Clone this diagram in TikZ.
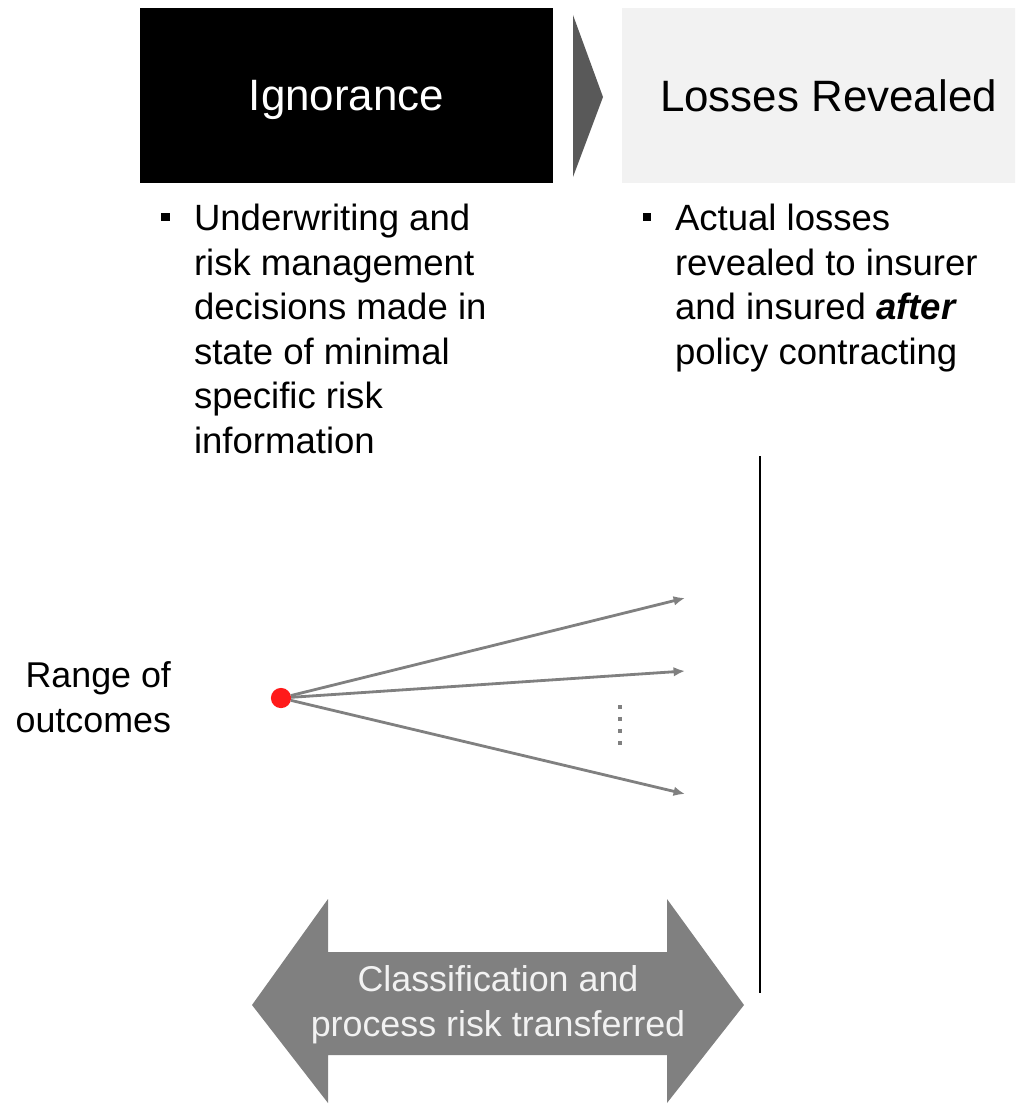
\documentclass[tikz,border=0pt]{standalone}
\usepackage{fontspec}
\setmainfont{Liberation Sans}
\usetikzlibrary{arrows.meta}
\definecolor{chevgray}{HTML}{595959}
\definecolor{fangray}{HTML}{808080}
\definecolor{boxgray}{HTML}{F2F2F2}
\definecolor{dotred}{HTML}{FF1A1A}
\tikzstyle{every node}=[inner sep=0pt, outer sep=0pt]
\tikzstyle{headbox}=[minimum width=8.26cm, minimum height=3.5cm, text depth=0pt, font=\fontsize{25}{30}\selectfont]
\tikzstyle{bodytext}=[align=left, anchor=north west, font=\fontsize{20.8}{25.4}\selectfont]
\tikzstyle{sqbullet}=[fill=black, minimum size=5pt]
\tikzset{fan/.style={draw=fangray, line width=1.6pt, -{Latex[length=6.5pt,width=5.5pt]}}}

\begin{document}
\begin{tikzpicture}[x=0.02cm, y=-0.02cm]
    \useasboundingbox (0,0) rectangle (1015,1105);
    \clip (0,0) rectangle (1015,1105);
    % stage boxes
    \node[headbox, fill=black, text=white] (ign) at (346.5,95.5) {Ignorance};
    \node[headbox, fill=boxgray, text=black] (rev) at (828.5,95.5) {Losses Revealed};
    \fill[chevgray] (573,15) -- (603,97) -- (573,177) -- cycle;
    % bullets
    \node[sqbullet] (bul1) at (165.5,217) {};
    \node[bodytext] (txt1) at (194,204) {Underwriting and\\risk management\\decisions made in\\state of minimal\\specific risk\\information};
    \node[sqbullet] (bul2) at (647,217) {};
    \node[bodytext] (txt2) at (675,204) {Actual losses\\revealed to insurer\\and insured \textbf{\textit{after}}\\policy contracting};
    % outcomes
    \node[align=right, anchor=north east, font=\fontsize{20.4}{25.4}\selectfont] (range) at (171,662) {Range of\\outcomes};
    \node[circle, fill=dotred, minimum size=11.5pt] (risk) at (281,698) {};
    \coordinate (out1) at (685,598);
    \coordinate (out2) at (685,671);
    \coordinate (out3) at (685,794);
    \draw[fan] (risk) -- (out1);
    \draw[fan] (risk) -- (out2);
    \draw[fan] (risk) -- (out3);
    \coordinate (dtop) at (620,705);
    \coordinate (dbot) at (620,746);
    \draw[fangray, line width=2.3pt, dash pattern=on 2.3pt off 4.5pt] (dtop) -- (dbot);
    \coordinate (vtop) at (760,456);
    \coordinate (vbot) at (760,993);
    \draw[line width=1.2pt] (vtop) -- (vbot);
    % transfer arrow
    \fill[fangray] (252,1005) -- (328,899) -- (328,952) -- (667,952) -- (667,899)
        -- (744,1005) -- (667,1103) -- (667,1055) -- (328,1055) -- (328,1103) -- cycle;
    \node[align=center, text=boxgray, font=\fontsize{20.4}{25.4}\selectfont] (xfer) at (498,1005) {Classification and\\process risk transferred};
\end{tikzpicture}
\end{document}
